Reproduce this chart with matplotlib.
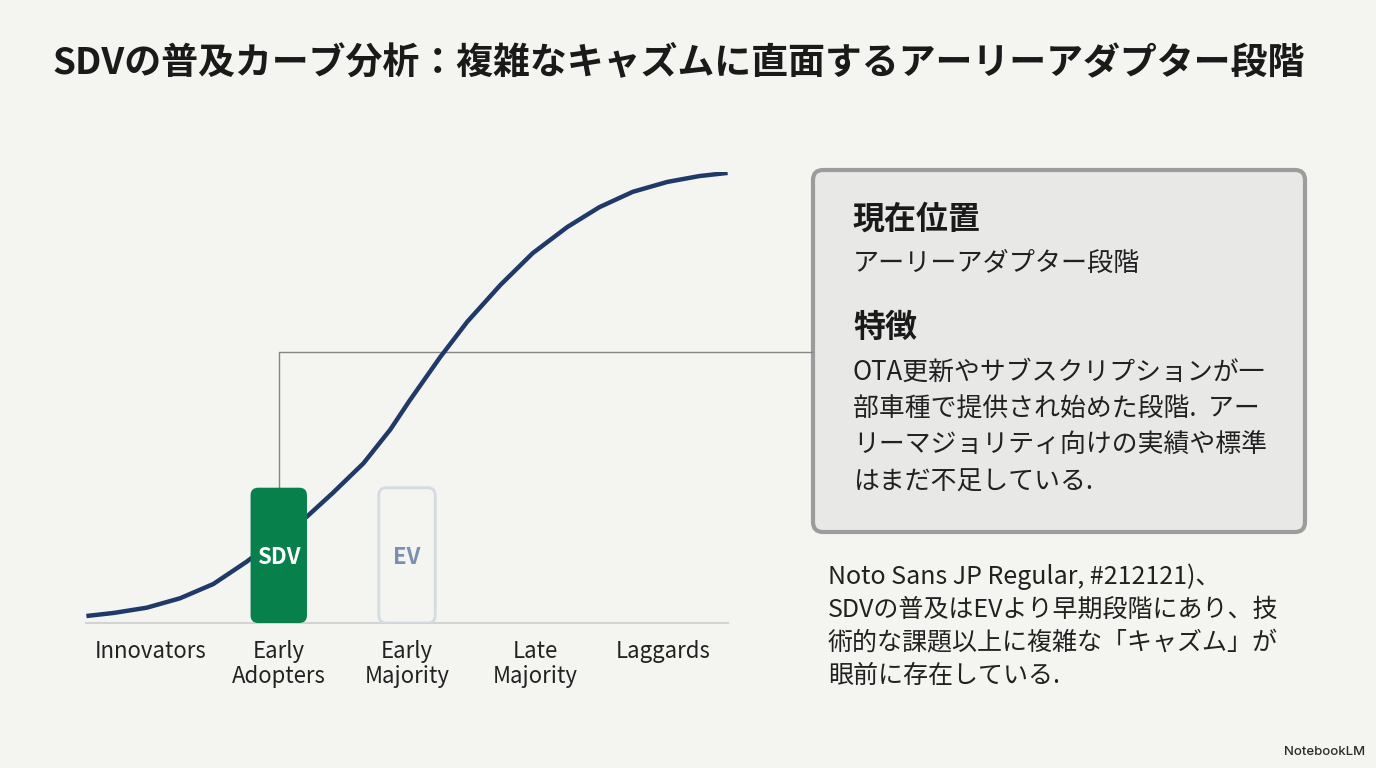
import numpy as np
import matplotlib.pyplot as plt
from matplotlib.patches import FancyBboxPatch

plt.rcParams['font.family'] = ['Noto Sans CJK JP', 'DejaVu Sans']

# adoption curve (x: stage index, y: % of market)
curve_x = [-0.50, -0.29, -0.03, 0.23, 0.49, 0.75, 1.01, 1.22, 1.42, 1.66, 1.87,
           2.02, 2.26, 2.47, 2.73, 2.98, 3.25, 3.50, 3.76, 4.03, 4.28, 4.50]
curve_y = [1.55, 2.22, 3.39, 5.48, 8.65, 13.6, 19.2, 23.6, 28.8, 35.4, 42.9,
           49.3, 59.0, 66.8, 75.0, 82.0, 87.8, 92.2, 95.6, 97.8, 99.1, 99.8]

stages = ['Innovators', 'Early\nAdopters', 'Early\nMajority', 'Late\nMajority', 'Laggards']
markers = ['SDV', 'EV']
marker_pos = [1, 2]
marker_height = [30, 30]
callout_level = 60

title = 'SDVの普及カーブ分析：複雑なキャズムに直面するアーリーアダプター段階'
box_head1 = '現在位置'
box_text1 = 'アーリーアダプター段階'
box_head2 = '特徴'
box_lines = ['OTA更新やサブスクリプションが一',
             '部車種で提供され始めた段階.  アー',
             'リーマジョリティ向けの実績や標準',
             'はまだ不足している.']
note_lines = ['Noto Sans JP Regular, #212121)、',
              'SDVの普及はEVより早期段階にあり、技',
              '術的な課題以上に複雑な「キャズム」が',
              '眼前に存在している.']

bg = '#f4f5f0'
W, H = 1376, 768
fig = plt.figure(figsize=(W / 100, H / 100), dpi=100)
fig.patch.set_facecolor(bg)

# overlay in pixel units for the text panel
ov = fig.add_axes([0, 0, 1, 1], zorder=0)
ov.set_xlim(0, W)
ov.set_ylim(H, 0)
ov.axis('off')

ov.text(52, 63, title, fontsize=26.6, fontweight='bold', color='#1a1a1a', va='center', ha='left')

ov.add_patch(FancyBboxPatch((813, 170), 492, 362, boxstyle='round,pad=0,rounding_size=10',
                            facecolor='#e8e8e7', edgecolor='#9c9c9c', linewidth=3))
ov.text(853, 220, box_head1, fontsize=23, fontweight='bold', color='#1a1a1a', va='center')
ov.text(853, 263, box_text1, fontsize=18.8, color='#212121', va='center')
ov.text(853, 328, box_head2, fontsize=23, fontweight='bold', color='#1a1a1a', va='center')
for i, line in enumerate(box_lines):
    ov.text(853, 372 + i * 36.7, line, fontsize=18.6, color='#212121', va='center')

for i, line in enumerate(note_lines):
    ov.text(828, 577 + i * 33, line, fontsize=18, color='#212121', va='center')

ov.text(1365, 752, 'NotebookLM', fontsize=9.5, color='#2a2a2a', va='center', ha='right',
        family=['Inter', 'DejaVu Sans'], fontweight='medium')

# main chart
ax = fig.add_axes([86.4 / W, (H - 623) / H, (727.6 - 86.4) / W, 451 / H], zorder=1)
ax.patch.set_alpha(0)
ax.set_xlim(-0.5, 4.5)
ax.set_ylim(0, 100)
for s in ['top', 'right', 'left']:
    ax.spines[s].set_visible(False)
ax.spines['bottom'].set_color('#d3d3d3')
ax.spines['bottom'].set_linewidth(1.5)
ax.set_yticks([])
ax.set_xticks(range(len(stages)))
ax.set_xticklabels(stages, fontsize=16, color='#222222', linespacing=1.13)
ax.tick_params(axis='x', length=0, pad=12)

# connector from SDV marker to the text panel
ax.plot([marker_pos[0], marker_pos[0], 5.16], [marker_height[0], callout_level, callout_level],
        color='#858585', linewidth=1, clip_on=False, zorder=1)

ax.plot(curve_x, curve_y, color='#1f3a68', linewidth=3.2, solid_capstyle='butt',
        solid_joinstyle='round', zorder=2)

bw = 0.44
ax.add_patch(FancyBboxPatch((marker_pos[0] - bw / 2, 0), bw, marker_height[0],
                            boxstyle='round,pad=0,rounding_size=0.06', mutation_aspect=28.4,
                            facecolor='#07804c', edgecolor='none', zorder=3))
ax.add_patch(FancyBboxPatch((marker_pos[1] - bw / 2, 0), bw, marker_height[1],
                            boxstyle='round,pad=0,rounding_size=0.06', mutation_aspect=28.4,
                            facecolor='none', edgecolor='#d6dae2', linewidth=2, zorder=3))
ax.text(marker_pos[0], 14.6, markers[0], fontsize=16, fontweight='bold', color='white',
        ha='center', va='center', zorder=4)
ax.text(marker_pos[1], 14.6, markers[1], fontsize=16, fontweight='bold', color='#7b8fb2',
        ha='center', va='center', zorder=4)

fig.savefig('out.png', dpi=100, facecolor=bg)
